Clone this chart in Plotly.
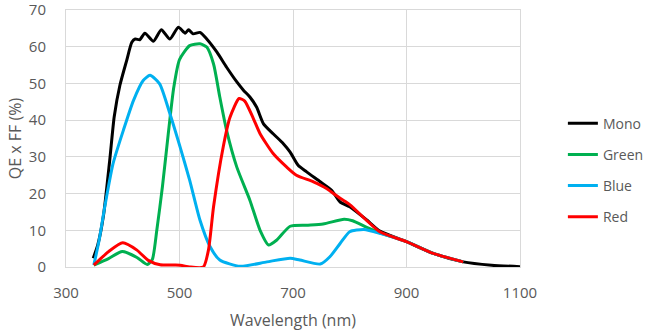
import plotly.graph_objects as go

# Quantum efficiency x fill factor (%) per channel, sampled vs wavelength (nm)
mono_wl = [348, 356, 366, 377, 385, 395, 407, 416, 422, 430, 439, 454, 468, 483, 498,
           510, 516, 524, 536, 548, 566, 583, 601, 613, 624, 636, 648, 665, 683, 695,
           709, 724, 748, 768, 783, 800, 830, 853, 900, 947, 1000, 1050, 1100]
mono_qe = [2.4, 6, 14, 29, 41, 49.5, 56.3, 61.2, 62.1, 61.9, 63.7, 61.5, 64.6, 62.1, 65.3,
           63.7, 64.6, 63.5, 63.9, 62.1, 58.5, 54.4, 50.4, 48.1, 46.3, 43.5, 39, 36.3, 33.6, 31.3,
           27.7, 25.9, 23.2, 20.9, 17.7, 16.4, 12.8, 9.8, 6.9, 3.7, 1.4, 0.5, 0.1]

green_wl = [349, 375, 399, 425, 443, 452, 460, 470, 480, 490, 500, 518, 536, 548, 560,
            571, 583, 601, 624, 642, 657, 671, 695, 724, 753, 790, 805, 830, 853, 900, 947, 1000]
green_qe = [0.5, 2.3, 4.2, 2.6, 0.7, 2, 10, 22, 36, 49, 56.5, 60.3, 60.8, 59.9, 55.3,
            46.3, 37.2, 27.2, 18.2, 10, 6, 7.3, 11.1, 11.4, 11.7, 13, 12.6, 10.8, 9.3, 6.9, 3.7, 1.4]

blue_wl = [349, 358, 369, 383, 401, 419, 436, 448, 465, 483, 501, 518, 536, 554, 571,
           607, 654, 695, 712, 748, 765, 783, 800, 825, 853, 900, 947, 1000]
blue_qe = [0.5, 7, 17, 28.2, 37.2, 45.4, 50.8, 52.2, 49.9, 41.8, 32.7, 23.6, 12.8, 5.5, 1.9,
           0.2, 1.4, 2.4, 1.9, 0.8, 2.8, 6.4, 9.6, 10.2, 9.2, 6.9, 3.7, 1.4]

red_wl = [349, 375, 400, 425, 445, 466, 501, 518, 542, 551, 560, 577, 589, 605, 615,
          630, 642, 665, 689, 706, 736, 759, 783, 800, 853, 900, 947, 1000]
red_qe = [0.5, 4.2, 6.6, 4.6, 1.8, 0.6, 0.5, 0, 0, 4.6, 16.4, 32.7, 40.8, 45.9, 45.2,
          40.5, 36.3, 30.9, 27.2, 25, 23.2, 21.4, 18.7, 17, 9.6, 6.9, 3.7, 1.4]

x_ticks = [300, 500, 700, 900, 1100]
y_ticks = [0, 10, 20, 30, 40, 50, 60, 70]

series = [
    ("Mono", mono_wl, mono_qe, "#000000"),
    ("Green", green_wl, green_qe, "#00B050"),
    ("Blue", blue_wl, blue_qe, "#00B0F0"),
    ("Red", red_wl, red_qe, "#FF0000"),
]

FONT = "Open Sans"
TXT = "#595959"
GRID = "#D9D9D9"

fig = go.Figure()
for name, wl, qe, color in series:
    fig.add_trace(go.Scatter(
        x=wl, y=qe, name=name, mode="lines",
        line=dict(color=color, width=3, shape="spline", smoothing=0.6),
        legendgroup=name,
    ))

axis_common = dict(
    ticks="", showgrid=True, gridcolor=GRID, gridwidth=1, zeroline=False,
    showline=True, linecolor=GRID, linewidth=1, mirror=True, automargin=False,
    ticklabeloverflow="allow", tickfont=dict(size=15, color=TXT),
)

fig.update_layout(
    width=653, height=331,
    margin=dict(l=66, r=133, t=10, b=64),
    paper_bgcolor="white", plot_bgcolor="white",
    font=dict(family=FONT, size=15, color=TXT),
    showlegend=True,
    legend=dict(
        x=0.862, y=0.675, xref="container", yref="container", xanchor="left", yanchor="top",
        font=dict(family=FONT, size=14, color=TXT),
        tracegroupgap=10, itemwidth=30, bgcolor="rgba(0,0,0,0)",
    ),
    xaxis=dict(
        range=[300, 1100], tickvals=x_ticks, ticklabelstandoff=12,
        title=dict(text="Wavelength (nm)", font=dict(size=16, color=TXT), standoff=13),
        **axis_common,
    ),
    yaxis=dict(
        range=[0, 70], tickvals=y_ticks, ticklabelstandoff=16,
        title=dict(text="QE x FF (%)", font=dict(size=16, color=TXT), standoff=3),
        **axis_common,
    ),
)

fig.write_html("out.html")
